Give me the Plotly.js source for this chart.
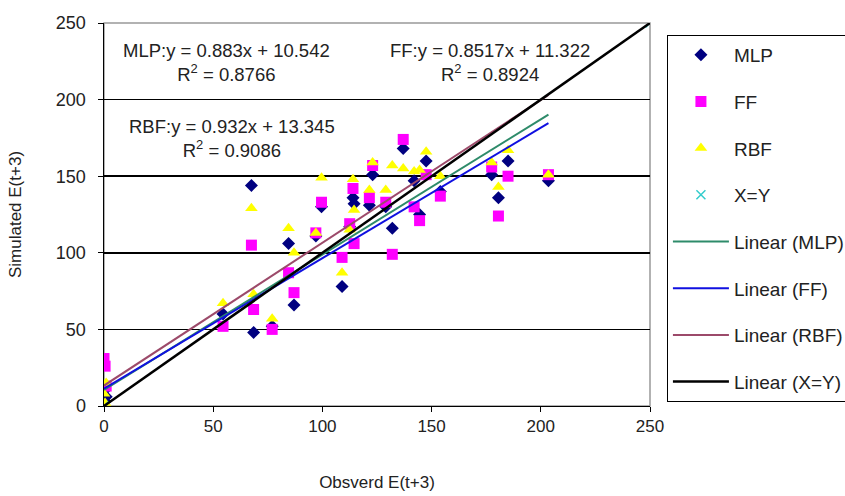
<!DOCTYPE html>
<html>
<head>
<meta charset="utf-8">
<script src="https://cdn.plot.ly/plotly-3.0.1.min.js"></script>
<style>html,body{margin:0;padding:0;background:#fff;}#chart{width:845px;height:496px;}</style>
</head>
<body>
<div id="chart"></div>
<script>
// Observed values (x) and simulated values per model
const obsMLP = [0, 0.5, 1, 54.5, 67.5, 68.5, 77, 84.5, 87, 97, 99.6, 109, 112.5, 114, 114.5, 121.5, 123, 129, 132, 137, 142, 144.5, 147.5, 154, 177.5, 180.6, 185, 203.5];
const simMLP = [10, 3, 6, 60, 144, 48, 52, 106, 66, 111, 130, 78, 117, 136, 132, 131, 151, 130, 116, 168, 147, 125, 160, 140, 151, 136, 160, 147];

const obsFF = [0, 0.5, 1, 54.5, 67.5, 68.5, 77, 84.5, 87, 97, 99.6, 109, 112.5, 114, 114.5, 121.5, 123, 129, 132, 137, 142, 144.5, 147.5, 154, 177.5, 180.6, 185, 203.5];
const simFF = [31, 26, 13, 52, 105, 63, 50, 87, 74, 113, 133, 97, 119, 142, 106, 136, 157, 133, 99, 174, 130, 121, 151, 137, 156, 124, 150, 151];

const obsRBF = [0, 0.5, 1, 54.5, 67.5, 68.5, 77, 84.5, 87, 97, 99.6, 109, 112.5, 114, 114.5, 121.5, 123, 129, 132, 137, 142, 144.5, 147.5, 154, 177.5, 180.6, 185, 203.5];
const simRBF = [8, 2, 15, 67, 129, 73, 57, 116, 100, 113, 149, 87, 115, 148, 128, 141, 159, 141, 157, 155, 153, 154, 166, 150, 159, 143, 167, 151];

const obsXY = [0, 250];
const simXY = [0, 250];

// Fitted trend-line coefficients (from the chart's equations)
const fitNames = ["Linear (MLP)", "Linear (FF)", "Linear (RBF)", "Linear (X=Y)"];
const fitSlopes = [0.883, 0.8517, 0.932, 1];
const fitIntercepts = [10.542, 11.322, 13.345, 0];
const fitColors = ["#2e8b6a", "#1010e0", "#9c4a6a", "#000000"];

const xTicks = [0, 50, 100, 150, 200, 250];
const yTicks = [0, 50, 100, 150, 200, 250];

const FONT = "Liberation Sans, Arial, sans-serif";
const TXT = "#222";

function fitLine(i, xs, w) {
  const x0 = Math.min(...xs), x1 = Math.max(...xs);
  return {
    x: [x0, x1],
    y: [fitSlopes[i] * x0 + fitIntercepts[i], fitSlopes[i] * x1 + fitIntercepts[i]],
    mode: "lines", type: "scatter", name: fitNames[i],
    line: {color: fitColors[i], width: w},
    legendgroup: "g" + (4 + i)
  };
}

const traces = [
  {x: obsMLP, y: simMLP, mode: "markers", type: "scatter", name: "MLP", legendgroup: "g0",
   marker: {symbol: "diamond", size: 10, color: "#000080"}},
  {x: obsFF, y: simFF, mode: "markers", type: "scatter", name: "FF", legendgroup: "g1",
   marker: {symbol: "square", size: 11, color: "#ff00ff"}},
  {x: obsRBF, y: simRBF, mode: "markers", type: "scatter", name: "RBF", legendgroup: "g2",
   marker: {symbol: "triangle-up", size: 11, color: "#ffff00"}},
  {x: obsXY, y: simXY, mode: "markers", type: "scatter", name: "X=Y", legendgroup: "g3",
   marker: {symbol: "x-thin", size: 9, color: "#33cccc", line: {color: "#33cccc", width: 1.5}}},
  fitLine(0, obsMLP, 2),
  fitLine(1, obsFF, 2),
  fitLine(2, obsRBF, 2),
  fitLine(3, obsXY, 2.5)
];

const layout = {
  width: 845, height: 496,
  margin: {l: 104, r: 195, t: 23, b: 90, autoexpand: false},
  paper_bgcolor: "#ffffff", plot_bgcolor: "#ffffff",
  font: {family: FONT, size: 17, color: TXT},
  showlegend: true,
  legend: {
    x: 1.031, y: 0.969, xanchor: "left", yanchor: "top",
    bordercolor: "#000", borderwidth: 1, bgcolor: "#fff",
    font: {family: FONT, size: 19, color: TXT},
    traceorder: "grouped", tracegroupgap: 19, itemwidth: 56
  },
  xaxis: {
    range: [0, 250], tickvals: xTicks, ticktext: xTicks.map(String),
    showgrid: false, zeroline: false, showline: true, linecolor: "#000", linewidth: 1,
    ticks: "outside", ticklen: 5, tickcolor: "#000",
    title: {text: "Obsverd E(t+3)", font: {family: FONT, size: 17, color: TXT}, standoff: 40},
    tickfont: {family: FONT, size: 17, color: TXT}
  },
  yaxis: {
    range: [0, 250], tickvals: yTicks, ticktext: yTicks.map(String),
    showgrid: true, gridcolor: "#000", gridwidth: 1.5, zeroline: false,
    showline: true, linecolor: "#000", linewidth: 1.5,
    ticks: "outside", ticklen: 5, tickcolor: "#000", ticklabelstandoff: 8,
    title: {text: "Simulated E(t+3)", font: {family: FONT, size: 17, color: TXT}, standoff: 30},
    tickfont: {family: FONT, size: 18, color: TXT}
  },
  shapes: [
    {type: "rect", xref: "paper", yref: "paper", x0: 0, x1: 1, y0: 0, y1: 1,
     line: {color: "#999", width: 1.5}, layer: "below"}
  ],
  annotations: [
    {xref: "paper", yref: "paper", x: 0.225, y: 0.962, xanchor: "center", yanchor: "top",
     text: "MLP:y = 0.883x + 10.542<br>R<sup>2</sup> = 0.8766", showarrow: false, align: "center",
     font: {family: FONT, size: 18.5, color: TXT}},
    {xref: "paper", yref: "paper", x: 0.707, y: 0.962, xanchor: "center", yanchor: "top",
     text: "FF:y = 0.8517x + 11.322<br>R<sup>2</sup> = 0.8924", showarrow: false, align: "center",
     font: {family: FONT, size: 18.5, color: TXT}},
    {xref: "paper", yref: "paper", x: 0.235, y: 0.762, xanchor: "center", yanchor: "top",
     text: "RBF:y = 0.932x + 13.345<br>R<sup>2</sup> = 0.9086", showarrow: false, align: "center",
     font: {family: FONT, size: 18.5, color: TXT}}
  ]
};

Plotly.newPlot("chart", traces, layout, {displayModeBar: false, staticPlot: true});
</script>
</body>
</html>
